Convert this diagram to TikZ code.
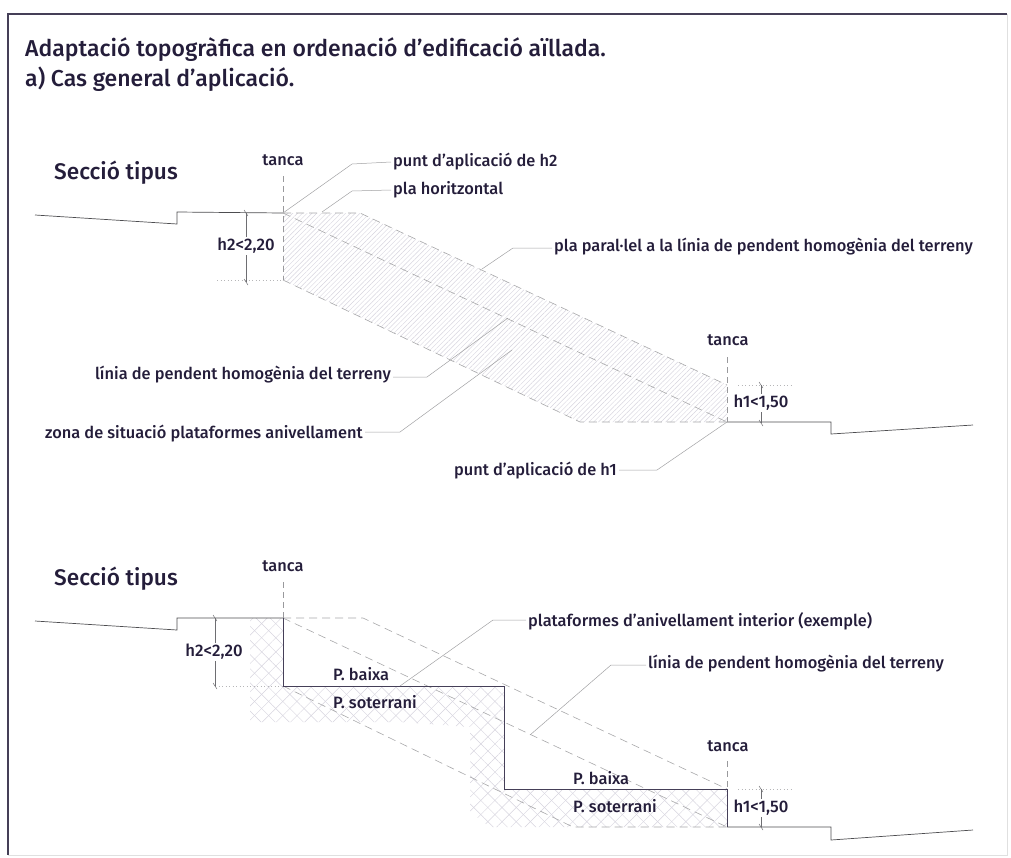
\documentclass[tikz,border=0pt]{standalone}
\usepackage{fontspec}
\usepackage{xcolor}
\usepackage{tikz}
\usetikzlibrary{patterns.meta}
\setmainfont{Fira Sans Medium}
\definecolor{inkcol}{HTML}{241D3A}
\definecolor{linecol}{HTML}{6E6E72}
\definecolor{hatchcol}{HTML}{D6D4DE}
\tikzset{
	lab/.style = {inner sep = 2pt, text = inkcol, font = \fontsize{16.4}{19}\selectfont},
	dimlab/.style = {lab, fill = white, inner sep = 1pt, font = \fontsize{16.7}{19}\selectfont},
	big/.style = {lab, inner sep = 0pt, font = \fontsize{22.6}{26}\selectfont},
	heading/.style = {lab, inner sep = 0pt, font = \fontsize{23}{27}\selectfont},
	ground/.style = {draw = linecol!70!black, line width = .7pt},
	wall/.style = {draw = inkcol!85, line width = 1pt},
	slope/.style = {draw = linecol!60, line width = .6pt, dash pattern = on 8pt off 5pt},
	fence/.style = {draw = linecol!70, line width = .5pt, dash pattern = on 6pt off 4pt},
	guide/.style = {draw = linecol!50, line width = .5pt, dash pattern = on 1pt off 2.5pt},
	leader/.style = {draw = linecol!65, line width = .5pt},
	dimension/.style = {draw = linecol, line width = .5pt},
}
\begin{document}
\begin{tikzpicture}[x = 1pt, y = -1pt]
		\useasboundingbox (0,0) rectangle (1011,857);
		% frame
		\draw [line width = 1.2pt, inkcol!85] (1007,14) -- (8,14) -- (8,855);
		\draw [line width = .4pt, black!12] (8,855) -- (1007,855) -- (1007,14);
		\node[heading, anchor = base west] (title) at (25,56) {Adaptació topogràfica en ordenació d'edificació aïllada.};
		\node[heading, anchor = base west] (subtitle) at (25,86) {a) Cas general d'aplicació.};

		% upper section
		\node[big] (secA) at (116,173) {Secció tipus};
		\coordinate (a0) at (283,213);
		\coordinate (a1) at (360,213);
		\coordinate (a2) at (727,385);
		\coordinate (a3) at (727,422);
		\coordinate (a4) at (580,422);
		\coordinate (a5) at (283,280);
		\foreach \ang in {45}{
			\fill [pattern = {Lines[angle = \ang, distance = 3.4pt, line width = .45pt]}, pattern color = hatchcol]
				(a0) -- (a1) -- (a2) -- (a3) -- (a4) -- (a5) -- cycle;
		}
		\draw [ground] (35,215) -- (177,224) -- (177,212) -- (a0);
		\draw [ground] (a3) -- (831,422) -- (831,434) -- (973,425);
		\draw [slope] (a0) -- (a1) -- (a2);
		\draw [slope] (a0) -- (a3);
		\draw [slope] (a5) -- (a4) -- (a3);
		\node[lab] (tancaA) at (283,160) {tanca};
		\node[lab] (tancaB) at (728,340) {tanca};
		\coordinate (fA) at (283,176);
		\coordinate (fB) at (727,357);
		\draw [fence] (fA) -- (a5);
		\draw [fence] (fB) -- (a3);
		% h2 and h1
		\coordinate (h2a) at (246,213);
		\coordinate (h2b) at (246,282);
		\coordinate (h1a) at (761,385);
		\coordinate (h1b) at (761,423);
		\draw [guide] (217,280) -- (a5);
		\draw [guide] (738,385) -- (792,385);
		\draw [dimension] (h2a) -- (h2b);
		\draw [dimension] (h1a) -- (h1b);
		\foreach \p in {h2a, h2b, h1a, h1b}{
			\draw [dimension] (\p) ++(-2,-3) -- +(4,6);
		}
		\node[dimlab] (h2A) at (246,246) {h2<2,20};
		\node[dimlab] (h1A) at (761,403) {h1<1,50};
		% labels
		\node[lab, anchor = west] (lpa) at (391,162) {punt d'aplicació de h2};
		\node[lab, anchor = west] (lho) at (391,190) {pla horitzontal};
		\node[lab, anchor = west] (lpar) at (552,247) {pla paral·lel a la línia de pendent homogènia del terreny};
		\node[lab, anchor = east] (llin) at (393,375) {línia de pendent homogènia del terreny};
		\node[lab, anchor = east] (lzon) at (365,434) {zona de situació plataformes anivellament};
		\node[lab, anchor = east] (lpb) at (619,471) {punt d'aplicació de h1};
		\draw [leader] (a0) -- (352,164) -- (lpa.west);
		\draw [leader] (322,212) -- (352,191) -- (lho.west);
		\draw [leader] (482,269) -- (513,248) -- (lpar.west |- 0,248);
		\draw [leader] (508,318) -- (427,377) -- (llin.east |- 0,377);
		\draw [leader] (512,350) -- (400,432) -- (lzon.east |- 0,432);
		\draw [leader] (a3) -- (657,470) -- (lpb.east |- 0,470);

		% lower section
		\node[big] (secB) at (116,579) {Secció tipus};
		\coordinate (b0) at (283,618);
		\coordinate (b1) at (363,618);
		\coordinate (b2) at (283,686);
		\coordinate (b3) at (504,686);
		\coordinate (b4) at (504,789);
		\coordinate (b5) at (727,789);
		\coordinate (b6) at (727,827);
		\coordinate (b7) at (573,827);
		\foreach \ang in {45,-45}{
			\fill [pattern = {Lines[angle = \ang, distance = 10pt, line width = .45pt]}, pattern color = hatchcol]
				(250,618) -- (b0) -- (b2) -- (b3) -- (b4) -- (b5) -- (b6) -- (490,827) -- (470,812) -- (470,727) -- (400,722) -- (250,722) -- cycle;
		}
		\draw [ground] (35,621) -- (177,630) -- (177,618) -- (b0);
		\draw [ground] (b6) -- (831,827) -- (831,840) -- (973,830);
		\draw [slope] (b0) -- (b1) -- (b5);
		\draw [slope] (b0) -- (b6);
		\draw [slope] (b2) -- (b7) -- (b6);
		\draw [wall] (b0) -- (b2) -- (b3) -- (b4) -- (b5) -- (b6);
		\node[lab] (tancaC) at (283,566) {tanca};
		\node[lab] (tancaD) at (728,746) {tanca};
		\coordinate (fC) at (283,582);
		\coordinate (fD) at (727,761);
		\draw [fence] (fC) -- (b0);
		\draw [fence] (fD) -- (b5);
		% h2 and h1
		\coordinate (h2c) at (215,618);
		\coordinate (h2d) at (215,686);
		\coordinate (h1c) at (761,789);
		\coordinate (h1d) at (761,827);
		\draw [guide] (h2d) -- (b2);
		\draw [guide] (738,789) -- (792,789);
		\draw [dimension] (h2c) -- (h2d);
		\draw [dimension] (h1c) -- (h1d);
		\foreach \p in {h2c, h2d, h1c, h1d}{
			\draw [dimension] (\p) ++(-2,-3) -- +(4,6);
		}
		\node[dimlab] (h2B) at (214,652) {h2<2,20};
		\node[dimlab] (h1B) at (761,808) {h1<1,50};
		% labels
		\foreach \x/\n/\up/\dn in {333/A/674/702, 573/B/778/806}{
			\node[lab, anchor = west, inner sep = 0pt] (pb\n) at (\x,\up) {P. baixa};
			\node[lab, anchor = west, inner sep = 0pt] (ps\n) at (\x,\dn) {P. soterrani};
		}
		\node[lab, anchor = west] (lpl) at (526,621) {plataformes d'anivellament interior (exemple)};
		\node[lab, anchor = west] (lli) at (646,664) {línia de pendent homogènia del terreny};
		\draw [leader] (400,686) -- (493,620) -- (lpl.west |- 0,620);
		\draw [leader] (530,735) -- (611,665) -- (lli.west |- 0,665);
	\end{tikzpicture}
\end{document}
